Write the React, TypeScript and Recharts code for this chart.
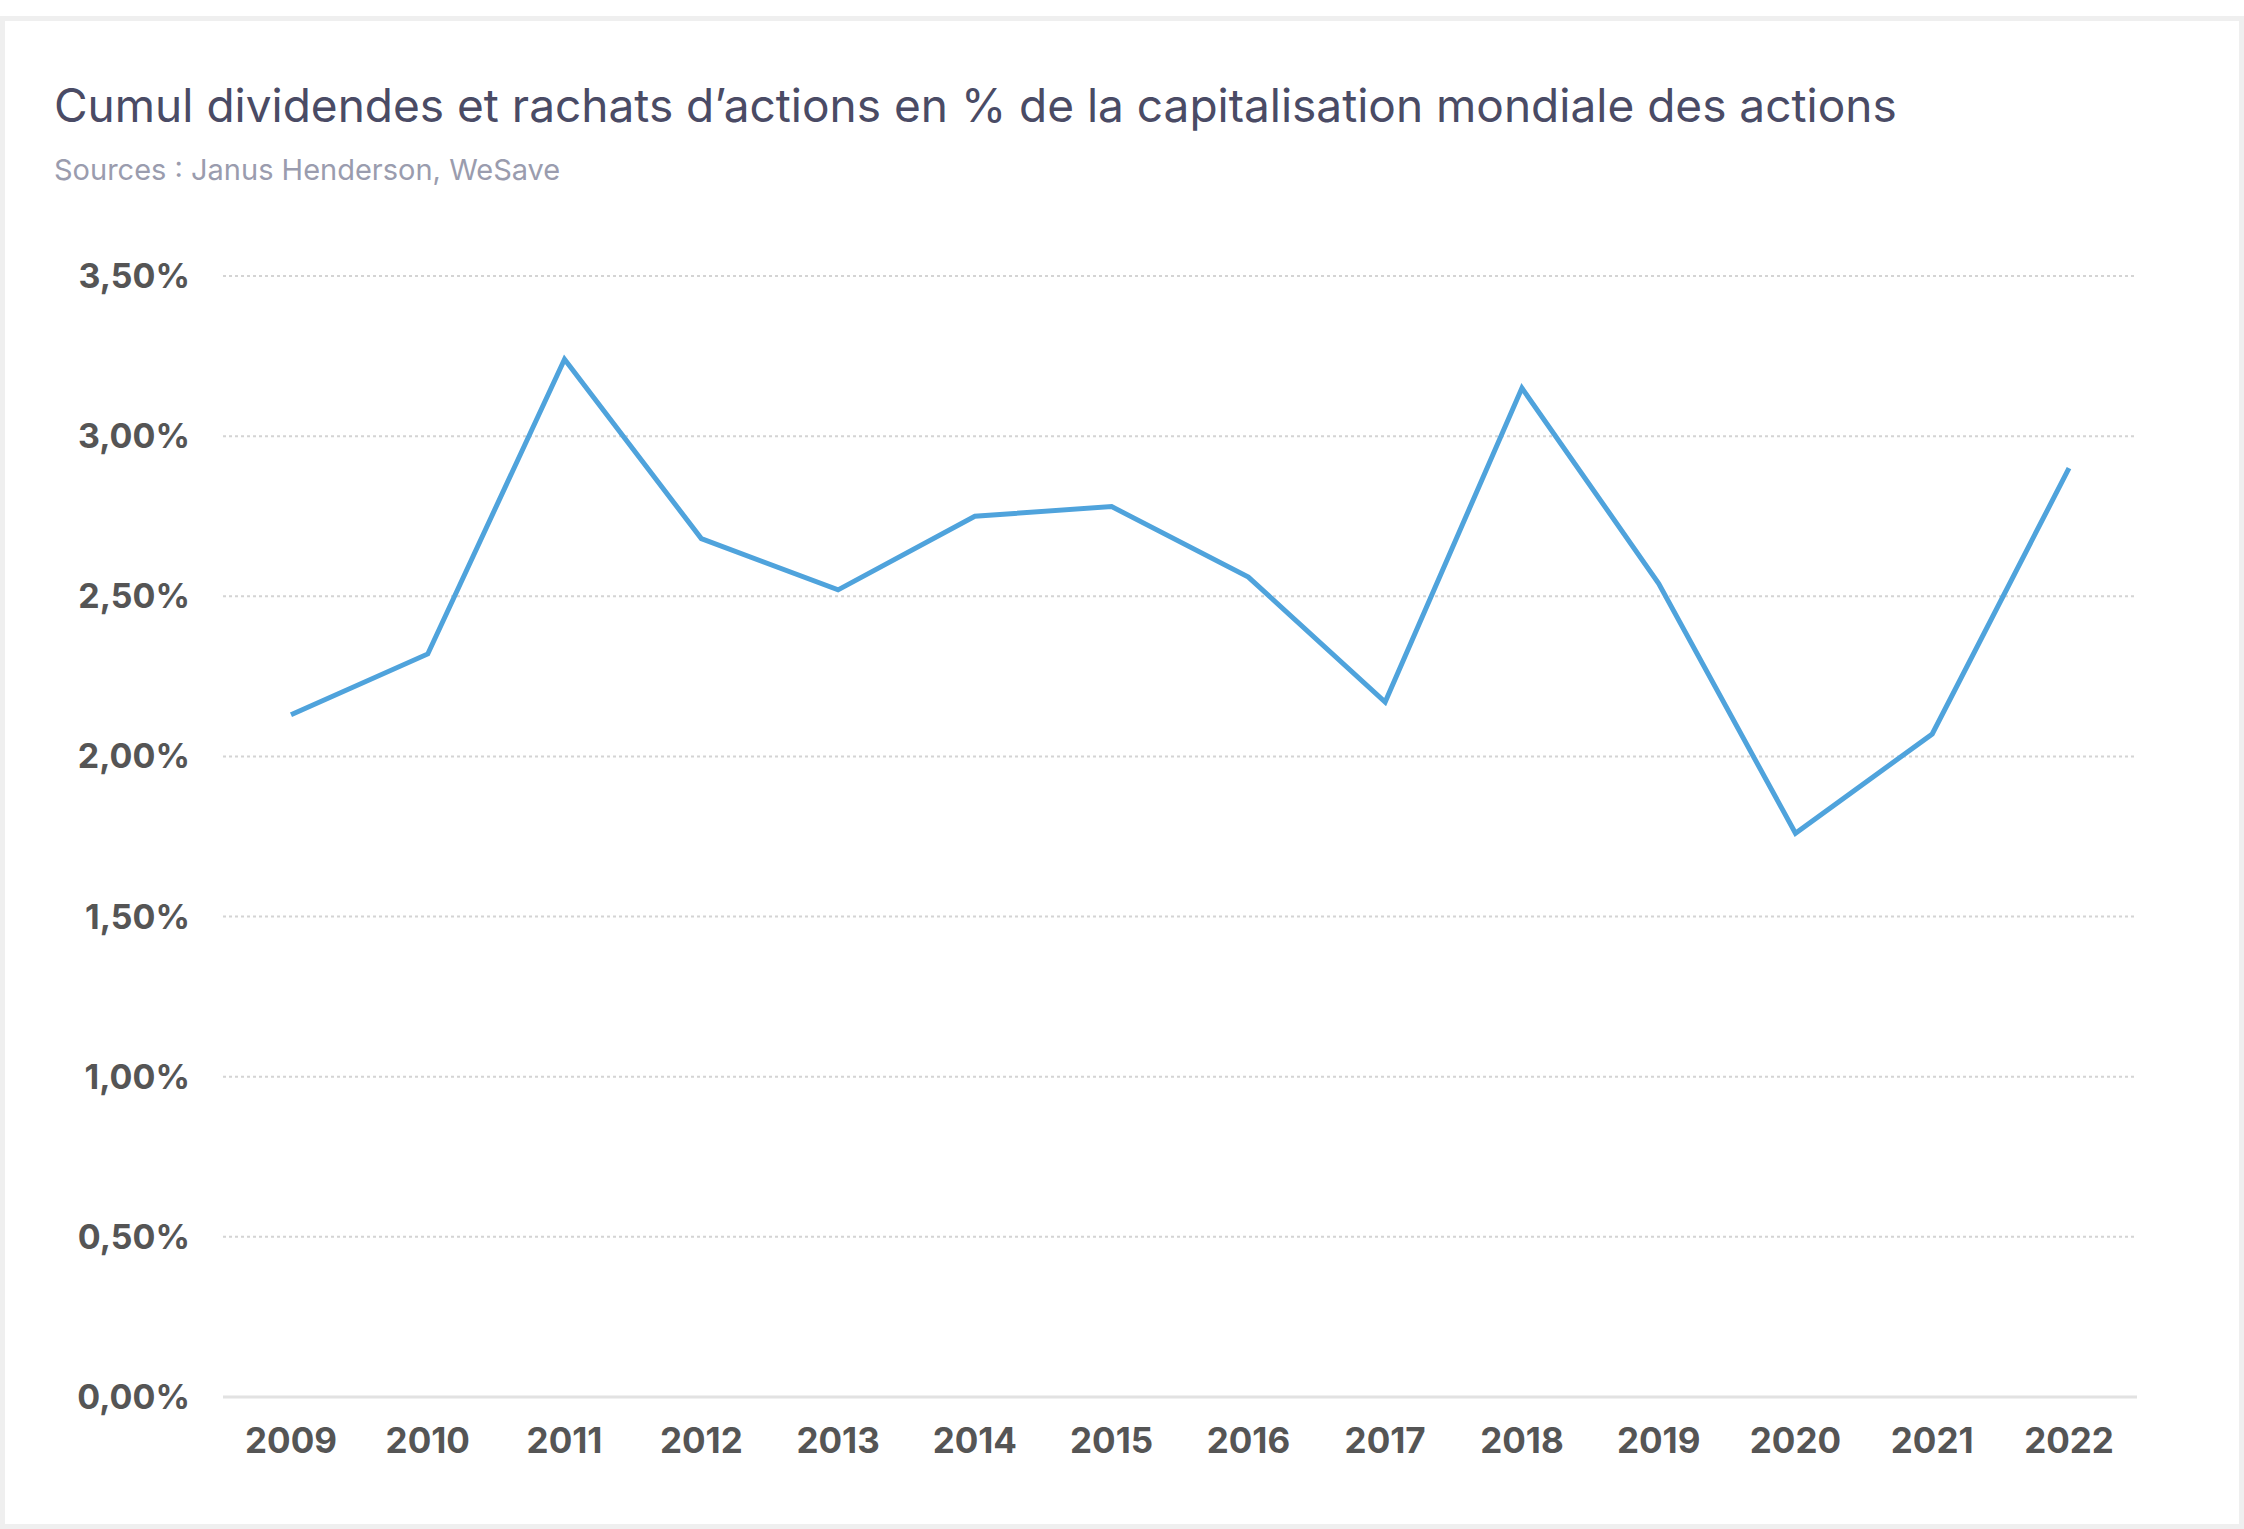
import { LineChart, Line, XAxis, YAxis, CartesianGrid } from 'recharts';

const YEARS = ['2009', '2010', '2011', '2012', '2013', '2014', '2015', '2016', '2017', '2018', '2019', '2020', '2021', '2022'];
const PAYOUT = [2.13, 2.32, 3.24, 2.68, 2.52, 2.75, 2.78, 2.56, 2.17, 3.15, 2.54, 1.76, 2.07, 2.9];
const Y_TICKS = [0, 0.5, 1, 1.5, 2, 2.5, 3, 3.5];

const TITLE = 'Cumul dividendes et rachats d’actions en % de la capitalisation mondiale des actions';
const SOURCE = 'Sources : Janus Henderson, WeSave';

const data = YEARS.map((year, i) => ({ year, value: PAYOUT[i] }));

const pctFormatter = (v: number) => `${v.toFixed(2).replace('.', ',')}%`;

const FONT = 'Inter, "Noto Sans", sans-serif';

export default function App() {
  return (
    <div style={{ position: 'relative', width: 2244, height: 1529, background: '#fff', fontFamily: FONT }}>
      <style>{'body{margin:0;background:#fff}'}</style>
      <div
        style={{
          position: 'absolute',
          left: 0,
          top: 16,
          width: 2244,
          height: 1513,
          boxSizing: 'border-box',
          border: '5px solid #efefef',
        }}
      />
      <div
        style={{
          position: 'absolute',
          left: 54,
          top: 82,
          fontSize: 46,
          lineHeight: 1,
          fontWeight: 400,
          color: '#4a4b65',
          whiteSpace: 'nowrap',
        }}
      >
        {TITLE}
      </div>
      <div
        style={{
          position: 'absolute',
          left: 54,
          top: 155,
          fontSize: 29,
          lineHeight: 1,
          color: '#9a9cae',
          whiteSpace: 'nowrap',
        }}
      >
        {SOURCE}
      </div>
      <div style={{ position: 'absolute', left: 0, top: 0 }}>
        <LineChart width={2244} height={1529} data={data} margin={{ top: 276, right: 107, bottom: 72, left: 103 }}>
          <CartesianGrid vertical={false} strokeDasharray="3 3" stroke="#d4d4d4" strokeWidth={2} />
          <XAxis
            dataKey="year"
            height={60}
            padding={{ left: 68, right: 68 }}
            tickLine={false}
            tickSize={0}
            tickMargin={31}
            axisLine={{ stroke: '#e2e2e2', strokeWidth: 3 }}
            tick={{ fill: '#555555', fontSize: 35, fontWeight: 700, fontFamily: FONT }}
            interval={0}
          />
          <YAxis
            width={120}
            domain={[0, 3.5]}
            ticks={Y_TICKS}
            tickFormatter={pctFormatter}
            axisLine={false}
            tickLine={false}
            tickSize={0}
            tickMargin={33}
            tick={{ fill: '#555555', fontSize: 34, fontWeight: 700, fontFamily: FONT }}
          />
          <Line
            type="linear"
            dataKey="value"
            stroke="#4fa3dc"
            strokeWidth={5}
            dot={false}
            activeDot={false}
            isAnimationActive={false}
          />
        </LineChart>
      </div>
    </div>
  );
}
